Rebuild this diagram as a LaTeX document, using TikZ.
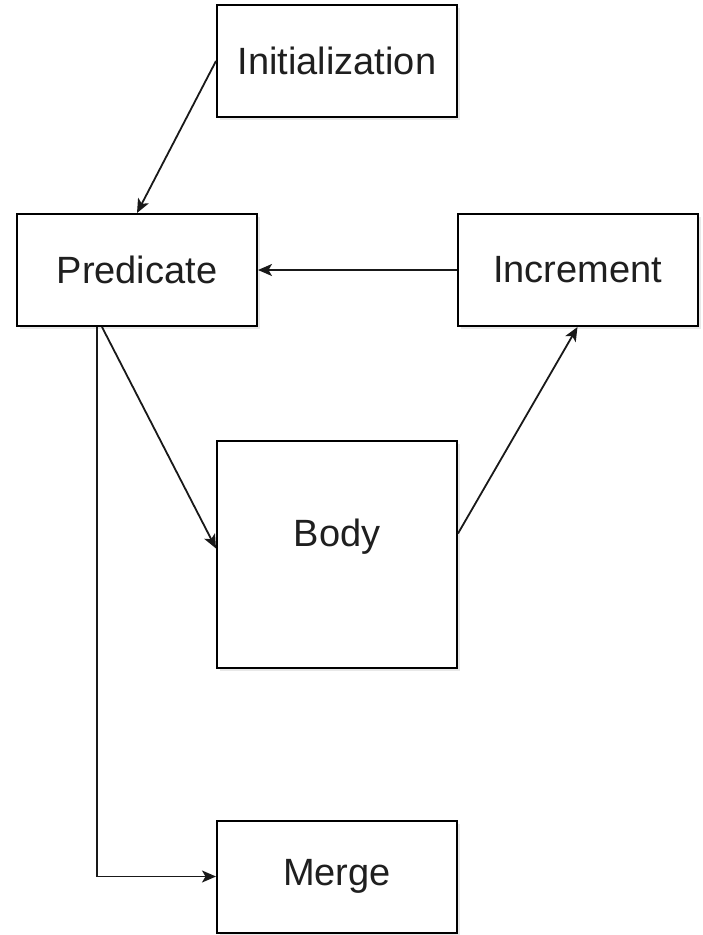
\documentclass[tikz,border=0pt]{standalone}
\usepackage{fontspec}
\setmainfont{Liberation Sans}
\usetikzlibrary{arrows.meta,shadows}
\begin{document}
\begin{tikzpicture}[x=1pt,y=-1pt,
  box/.style={draw=black,line width=2pt,fill=white,rectangle,minimum width=240pt,minimum height=112pt,inner sep=0pt,
    font=\fontsize{38}{44}\selectfont,text=black!88,
    drop shadow={shadow xshift=3pt,shadow yshift=-3pt,opacity=0.18,fill=gray}},
  conn/.style={draw=black!90,line width=1.8pt,-{Stealth[length=14pt,width=12pt,inset=3.5pt]}}]
\useasboundingbox (0,0) rectangle (703,935);
\node[box] (init) at (337,61) {Initialization};
\node[box] (pred) at (137,270) {Predicate};
\node[box] (inc) at (577.5,270) {Increment};
\node[box,minimum height=227pt] (body) at (337,554.5) {};
\node (bodylabel) at (337,537) {\fontsize{38}{44}\selectfont\color{black!88}Body};
\node[box] (merge) at (337,876.5) {Merge};
\coordinate (pa) at ([xshift=-35pt]pred.south);
\coordinate (pb) at ([xshift=-40pt]pred.south);
\draw[conn] (init.west) -- (pred.north);
\draw[conn] (inc.west) -- (pred.east);
\draw[conn] (pa) -- ([yshift=6pt]body.west);
\draw[conn] ([yshift=21pt]body.east) -- (inc.south);
\draw[conn] (pb) |- (merge.west);
\end{tikzpicture}
\end{document}
